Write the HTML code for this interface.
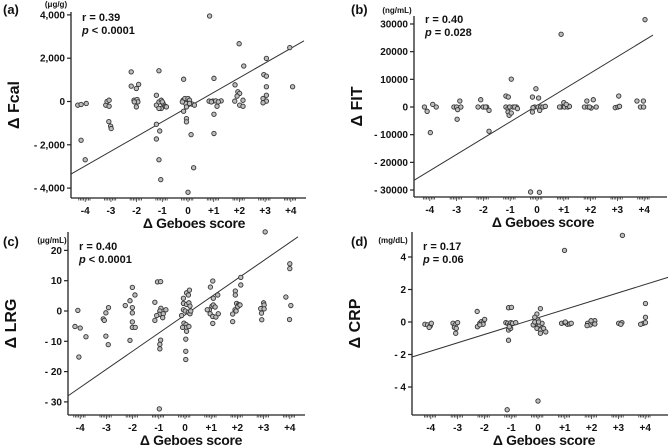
<!DOCTYPE html>
<html><head><meta charset="utf-8"><style>
html,body{margin:0;padding:0;background:#fff;}
svg{display:block;font-family:"Liberation Sans",Arial,sans-serif;}
text{font-weight:bold;fill:#111;}
</style></head><body>
<svg id="chart" width="669" height="448" viewBox="0 0 669 448" xmlns="http://www.w3.org/2000/svg"></svg>
<script>
const categories = [-4,-3,-2,-1,0,1,2,3,4];
const categoryLabels = ['-4','-3','-2','-1','0','+1','+2','+3','+4'];
// panel a (Fcal)
const fcalX = [-4.29,-4.16,-3.96,-4.16,-4.0,-3.2,-3.15,-3.07,-3.07,-3.08,-3.01,-2.99,-2.21,-2.21,-2.01,-1.92,-2.1,-2.03,-1.98,-1.95,-2.01,-2.09,-1.13,-1.23,-1.23,-1.23,-1.1,-1.13,-1.06,-1.23,-1.13,-1.04,-0.97,-1.04,-0.88,-1.13,-0.84,-1.0,-0.17,-0.19,-0.12,0,0.06,-0.09,-0.17,-0.06,-0.06,0.12,0.22,0,-0.06,0.17,0.25,-0.22,0.06,0.84,1.01,1.01,1.01,0.82,0.97,1.08,1.13,1.29,1.18,0.91,1.99,2.17,1.83,1.94,2.01,1.91,1.82,2.01,2.14,2.14,3.05,2.95,3.05,3.05,3.05,2.92,3.05,2.92,3.96,4.07];
const fcalY = [-170,-140,-90,-1790,-2690,-170,0,60,-220,-930,-1140,-1250,1370,710,600,790,60,0,90,-20,-250,-20,1420,290,-1050,-1730,-1360,-2690,-3610,-170,-20,60,-90,-320,-220,-320,-250,-20,1030,60,140,140,60,-90,-450,-790,-940,-1530,-3060,-4190,-250,-120,-170,-20,-90,3950,1070,-590,-1480,20,20,30,-220,30,-20,-20,2670,1640,770,450,370,250,20,-170,-220,60,1990,1240,1170,680,290,140,20,-60,2490,680];
const fcalTicks = [4000,2000,0,-2000,-4000];
const fcalTickLabels = ['4,000','2,000','0','- 2,000','- 4,000'];
const fcalFit = [679,-260];
// panel b (FIT)
const fitX = [-4.2,-4.1,-3.89,-3.76,-3.98,-3.1,-3.0,-2.96,-2.88,-2.84,-2.98,-2.2,-2.1,-2.01,-1.88,-1.79,-1.79,-1.92,-1.16,-1.07,-0.96,-1.16,-1.08,-1.02,-0.89,-0.77,-1.08,-1.04,-0.96,-0.83,-0.73,-0.17,-0.04,0.06,-0.17,-0.09,0.04,0.14,0.22,0.31,0.1,-0.24,0.09,-0.15,0.9,1.0,0.9,1.03,1.15,1.21,0.84,1.09,1.86,2.1,1.77,1.9,2.02,2.21,1.96,3.05,2.92,3.02,3.08,3.73,3.97,3.86,3.98,4.03];
const fitY = [0,-1560,960,0,-9240,0,0,-960,2160,0,-4440,0,2640,0,0,-1200,-8760,0,3960,3600,10080,0,-600,0,0,0,-1800,-3000,-2160,0,-600,3600,6600,3240,-1800,0,0,0,0,240,-1200,-30700,-30800,-240,26300,1560,0,0,0,240,0,960,2160,2640,0,0,-360,0,0,3960,-240,0,240,2160,2160,0,0,31560];
const fitTicks = [30000,20000,10000,0,-10000,-20000,-30000];
const fitTickLabels = ['30000','20000','10000','0','- 10000','- 20000','- 30000'];
const fitFit = [5886,520];
// panel c (LRG)
const lrgX = [-4.2,-4.09,-4.0,-4.05,-3.78,-3.12,-3.08,-3.02,-2.92,-3.02,-2.93,-2.28,-2.1,-2.01,-1.91,-2.01,-2.01,-2.01,-2.01,-1.9,-2.1,-1.15,-1.05,-0.93,-0.92,-0.96,-0.98,-1.08,-1.15,-0.93,-0.96,-0.96,-0.98,-0.83,-0.73,-0.85,-0.06,0.06,0.17,0.13,-0.06,0.06,0.15,-0.06,0.01,0.13,0.19,-0.13,-0.04,0.04,-0.09,0.06,0.06,0.15,0.03,0.03,0.03,0.19,0.22,0.97,1.06,1.08,1.25,0.93,1.03,1.08,1.15,0.96,1.06,1.18,1.27,1.06,0.85,1.82,1.82,1.92,1.92,2.13,2.13,1.97,2.05,2.08,2.0,1.91,1.95,2.1,3.06,3.0,3.02,2.89,2.92,3.02,2.93,3.85,4.0,4.0,4.04,3.99];
const lrgY = [-5.1,0.2,-5.6,-15.2,-8.5,-2.6,-3.1,-0.6,1.1,-8.3,-11.1,1.8,3.4,7.8,5.3,1.1,-0.6,-3.6,-5.4,-5.4,-9.7,2.9,9.6,9.7,0.9,0,-1.1,-1.5,-3.1,-9.6,-11,-12.5,-32.3,-0.9,0.4,-2.2,4.2,6.0,6.9,5.3,2.5,2.2,2.7,0.4,0,-0.4,-0.9,-1.5,-4.0,-4.5,-5.4,-5.4,-6.7,-5.1,-9.3,-13.3,-16.0,1.6,0,7.9,9.9,4.2,5.3,0.4,1.6,2.0,1.3,-0.9,-1.8,-2.0,-0.9,-4.1,0.4,-1.0,-3.5,6.6,5.3,11.1,8.6,2.5,2.1,1.9,1.3,0.4,0,2.0,26.1,2.7,2.0,0.8,-0.7,0.7,-2.9,4.6,15.6,14.0,1.8,-2.8];
const lrgTicks = [20,10,0,-10,-20,-30];
const lrgTickLabels = ['20','10','0','- 10','- 20','- 30'];
const lrgFit = [5.98,-1.3];
// panel d (CRP)
const crpX = [-4.22,-4.12,-4.02,-3.98,-4.06,-3.17,-3.09,-3.0,-3.12,-3.05,-3.07,-2.27,-2.26,-2.17,-2.11,-2.05,-1.99,-2.05,-2.17,-1.10,-0.99,-1.10,-1.15,-1.2,-1.13,-1.07,-1.01,-0.95,-0.83,-1.10,-1.02,-1.07,0.09,-0.04,-0.12,0,-0.1,0.05,0.15,-0.18,-0.04,0.09,0.21,0.29,0.09,0,-0.12,0.02,0.99,0.88,1.0,1.1,1.18,1.24,1.02,1.85,1.95,2.04,2.12,2.12,1.98,1.83,3.15,3.01,3.13,3.09,4.01,4.01,3.93,4.01,3.83];
const crpY = [-0.14,-0.18,-0.24,-0.08,-0.33,-0.08,-0.18,-0.04,-0.33,-0.39,-0.69,0.65,-0.29,-0.08,0.02,-0.04,0.16,-0.14,-0.18,0.88,0.9,-1.12,-5.4,-0.04,-0.08,-0.18,-0.04,-0.08,-0.04,-0.49,-0.39,-0.29,0.82,0.49,0.29,0.12,-0.08,-0.18,-0.08,-0.18,-0.39,-0.49,-0.39,-0.61,-0.69,-4.86,0,0,4.41,-0.08,-0.04,-0.14,-0.12,-0.08,0,-0.08,-0.18,-0.04,0.08,-0.12,0.08,-0.22,5.33,-0.08,-0.04,-0.14,1.14,0.29,-0.08,-0.04,-0.14];
const crpTicks = [4,2,0,-2,-4];
const crpTickLabels = ['4','2','0','- 2','- 4'];
const crpFit = [0.513,0.26];

const NS='http://www.w3.org/2000/svg';
const svg=document.getElementById('chart');
function mk(tag,attrs,parent,txt){const e=document.createElementNS(NS,tag);for(const k in attrs)e.setAttribute(k,attrs[k]);if(txt!==undefined)e.textContent=txt;(parent||svg).appendChild(e);return e;}

function panel(cfg){
  const g=mk('g',{});
  
  
  const xs=v=>cfg.x0+v*cfg.xu;
  const ys=v=>cfg.y0-v*cfg.yu;
  const ya=mk('line',{x1:cfg.ax,y1:cfg.top,x2:cfg.ax,y2:cfg.bot,stroke:'#222','stroke-width':1.3},g);
  
  
  const xa=mk('line',{x1:cfg.ax,y1:cfg.bot,x2:cfg.right,y2:cfg.bot,stroke:'#222','stroke-width':1.3},g);
  
  
  cfg.ticks.forEach((t,i)=>{
    const y=ys(t);
    mk('line',{x1:cfg.ax-4,y1:y,x2:cfg.ax,y2:y,stroke:'#222','stroke-width':1.2},g);
    const tl=mk('text',{x:cfg.ax-6,y:y+3.5,'text-anchor':'end','font-size':10},g,cfg.tickLabels[i]);
    
    
  });
  categories.forEach((c,i)=>{
    const cx=xs(c);
    for(let k=-4;k<=3;k++){
      const x=cx+k*1.6;
      mk('line',{x1:x,y1:cfg.bot,x2:x,y2:cfg.bot+(k===0?4:2.5),stroke:'#333','stroke-width':0.8},g);
    }
    const xl=mk('text',{x:cx,y:cfg.bot+16,'text-anchor':'middle','font-size':10},g,categoryLabels[i]);
    
    
  });
  const gx1=(cfg.ax-cfg.x0)/cfg.xu, gx2=(cfg.lineEnd-cfg.x0)/cfg.xu;
  const fl=mk('line',{x1:xs(gx1),y1:ys(cfg.fit[0]*gx1+cfg.fit[1]),x2:xs(gx2),y2:ys(cfg.fit[0]*gx2+cfg.fit[1]),stroke:'#333','stroke-width':1},g);
  
  
  cfg.px.forEach((v,i)=>{
    const p=mk('circle',{cx:xs(v),cy:ys(cfg.py[i]),r:2.2,fill:'#bdbdbd',stroke:'#333','stroke-width':0.9},g);
    
    
  });
  const pl=mk('text',{x:cfg.lblX,y:cfg.lblY,'font-size':13},g,cfg.label);
  
  
  const un=mk('text',{x:cfg.unitX,y:cfg.unitY,'font-size':8,'text-anchor':'middle'},g,cfg.unit);
  
  
  const r=mk('text',{x:cfg.ax+11,y:cfg.statY,'font-size':11},g,cfg.r);
  
  
  const pv=mk('text',{x:cfg.ax+11,y:cfg.statY+13,'font-size':11},g);
  
  
  mk('tspan',{'font-style':'italic'},pv,'p');
  mk('tspan',{},pv,cfg.p);
  const yt=mk('text',{x:0,y:0,'font-size':16,'text-anchor':'middle',transform:`translate(${cfg.ax-52},${(cfg.top+cfg.bot)/2}) rotate(-90)`},g,cfg.ytitle);
  
  
  const xt=mk('text',{x:xs(0)+6,y:cfg.bot+30,'font-size':14,'letter-spacing':'-0.3','text-anchor':'middle'},g,'Δ Geboes score');
  
  
}

panel({id:'fcal',x0:188,xu:25.7,y0:101.5,yu:43.3/2000,ax:71,top:12,bot:198,right:306,lineEnd:304,ticks:fcalTicks,tickLabels:fcalTickLabels,fit:fcalFit,px:fcalX,py:fcalY,label:'(a)',lblX:3,lblY:14,unit:'(μg/g)',unitX:56,unitY:7,r:'r = 0.39',p:' < 0.0001',statY:21,ytitle:'Δ Fcal'});
panel({id:'fit',x0:537,xu:26.8,y0:107,yu:27.67/10000,ax:414,top:16,bot:197,right:667,lineEnd:653,ticks:fitTicks,tickLabels:fitTickLabels,fit:fitFit,px:fitX,py:fitY,label:'(b)',lblX:351,lblY:14,unit:'(ng/mL)',unitX:397,unitY:13,r:'r = 0.40',p:' = 0.028',statY:23,ytitle:'Δ FIT'});
panel({id:'lrg',x0:185,xu:26.2,y0:311,yu:3.03,ax:68,top:232,bot:415,right:305,lineEnd:298,ticks:lrgTicks,tickLabels:lrgTickLabels,fit:lrgFit,px:lrgX,py:lrgY,label:'(c)',lblX:3,lblY:246,unit:'(μg/mL)',unitX:52,unitY:243,r:'r = 0.40',p:' < 0.0001',statY:250,ytitle:'Δ LRG'});
panel({id:'crp',x0:538,xu:26.8,y0:322,yu:16.25,ax:412,top:232,bot:415,right:668,lineEnd:668,ticks:crpTicks,tickLabels:crpTickLabels,fit:crpFit,px:crpX,py:crpY,label:'(d)',lblX:351,lblY:246,unit:'(mg/dL)',unitX:393,unitY:243,r:'r = 0.17',p:' = 0.06',statY:250,ytitle:'Δ CRP'});
</script>
</body></html>
